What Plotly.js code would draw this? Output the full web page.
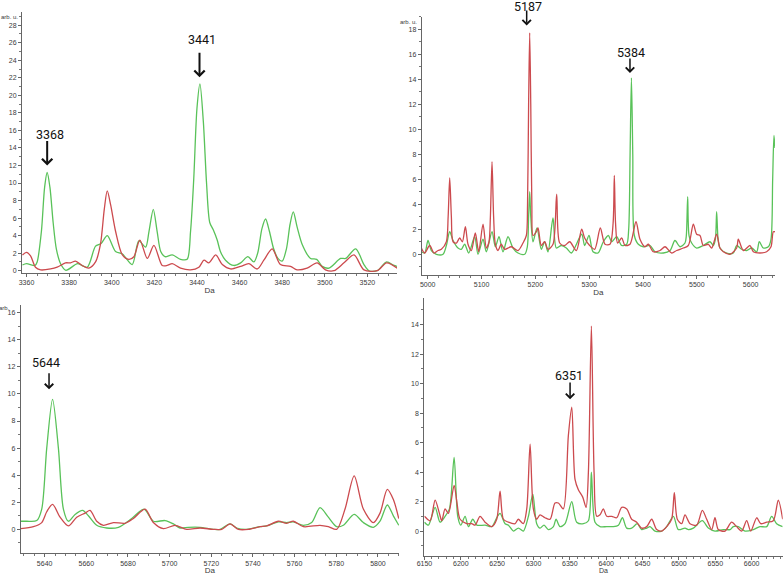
<!DOCTYPE html>
<html>
<head>
<meta charset="utf-8">
<script src="https://cdn.plot.ly/plotly-3.0.1.min.js"></script>
<style>
  html, body { margin: 0; padding: 0; background: #ffffff; }
  #plot { width: 784px; height: 575px; }
</style>
</head>
<body>
<div id="plot"></div>
<script>
// spectra (Da, arb. u.)

// panel 1 : 3360 - 3530 Da
let p1GreenDa = [3358.1, 3360, 3364, 3365, 3367, 3368.5, 3369.7, 3371, 3372.5, 3374, 3376, 3378.5, 3384, 3388.5,
    3392.4, 3395, 3397.9, 3401.8, 3405, 3409.6, 3412.7, 3415.9, 3417.5, 3419.5, 3421.3, 3423, 3425, 3428.4, 3432.3,
    3435.4, 3437, 3438.5, 3440, 3441.4, 3443, 3444.5, 3446, 3447.6, 3449.5, 3451, 3453.4, 3457.3, 3460.5, 3463.9,
    3466.7, 3468.5, 3470.5, 3472.2, 3474, 3476, 3478, 3480, 3482, 3483.7, 3485.2, 3487, 3489.4, 3493.3, 3496.2,
    3498.8, 3502, 3507.4, 3509.8, 3514.5, 3518.4, 3520.7, 3524.6, 3529, 3532.5, 3534];
let p1Green = [0.65, 0.8, 0.6, 1.0, 4.5, 9.5, 11.2, 9.5, 5.5, 2.5, 0.8, 0.05, 0.8, 0.4,
    2.8, 3.1, 4.0, 2.2, 1.9, 0.7, 3.4, 2.7, 4.5, 7.0, 4.5, 2.2, 1.6, 1.8, 1.3,
    1.3, 4.5, 10.5, 18.5, 21.3, 17.0, 10.0, 5.5, 4.7, 3.5, 2.2, 1.2, 0.6, 0.9, 1.6,
    1.0, 2.0, 4.8, 5.9, 4.5, 2.5, 1.4, 1.1, 2.5, 5.3, 6.7, 5.0, 3.0, 1.4, 1.3,
    0.5, 0.3, 1.4, 1.4, 2.5, 0.7, 0.0, 0.0, 1.0, 0.6, 0.5];
let p1RedDa = [3358.1, 3360, 3361.9, 3364.2, 3366.6, 3371.3, 3374.4, 3378.3, 3380.7, 3383, 3386.1, 3389.3, 3392.4,
    3394.7, 3396.5, 3397.9, 3399.5, 3401.8, 3405, 3408, 3410.4, 3413.2, 3416.7, 3419.8, 3423.7, 3426, 3428.4,
    3432.3, 3437, 3440.9, 3443.3, 3445.6, 3448.8, 3451.9, 3455.8, 3460.5, 3464.4, 3468.3, 3471.4, 3475.3, 3479.2,
    3483.9, 3487, 3491.7, 3496.4, 3500.3, 3504.3, 3509, 3513.7, 3518.4, 3524.6, 3529, 3534];
let p1Red = [1.8, 2.1, 1.7, 0.4, 0.1, 0.2, 0.4, 0.9, 0.9, 1.1, 0.6, 0.3, 1.0,
    3.0, 7.0, 9.1, 7.5, 4.5, 1.8, 1.3, 1.6, 3.5, 1.4, 2.9, 0.6, 0.6, 0.8,
    0.3, 0.1, 0.4, 1.2, 0.9, 1.8, 0.7, 0.2, 0.5, 0.8, 0.2, 1.2, 2.5, 0.7,
    0.5, 0.1, 0.3, 0.9, 0.1, 0.0, 0.9, 1.8, 0.1, 0.0, 0.9, 0.3];

// panel 2 : 5000 - 5640 Da
let p2GreenDa = [4988.2, 4994.4, 5000.6, 5006.8, 5016.1, 5028.5, 5034.7, 5040.9, 5047.1, 5056.3, 5062.5, 5068.7,
    5076.2, 5087.3, 5093.5, 5102.8, 5109, 5119.5, 5125.7, 5132.5, 5139.9, 5149.2, 5158.5, 5167.8, 5180.2, 5185.1,
    5187.5, 5189.5, 5191.5, 5195.7, 5203.1, 5211.1, 5217.3, 5223.5, 5232.8, 5239, 5248.3, 5257.6, 5266.9, 5286.1,
    5291.6, 5299.7, 5307.1, 5316.4, 5326.3, 5335.6, 5341.8, 5351.1, 5360.4, 5369.7, 5373.4, 5376, 5378.5, 5381,
    5383.9, 5391.3, 5400.6, 5413, 5422.3, 5437.8, 5450.2, 5459.4, 5468.7, 5478, 5480.5, 5483, 5485.5, 5490.4,
    5499.7, 5512.1, 5524.5, 5530.7, 5534.5, 5536.8, 5539.5, 5543, 5555.4, 5567.8, 5574, 5583.3, 5592.6, 5601.9,
    5611.1, 5616.1, 5623.5, 5632.8, 5637.8, 5640.9, 5643.3, 5645.2];
let p2Green = [0.2, 0.1, 1.1, 0.3, 0.0, 0.0, 0.7, 1.8, 1.1, 0.5, 0.4, 0.8,
    0.1, 1.4, 0.0, 1.2, 0.2, 1.8, 0.6, 1.4, 0.2, 1.4, 0.5, 0.1, 0.0, 0.6,
    3.0, 5.0, 3.0, 1.0, 2.1, 0.4, 1.0, 0.2, 2.9, 0.5, 0.7, 0.5, 0.1, 1.6,
    0.7, 1.5, 0.2, 0.1, 1.0, 1.5, 1.0, 1.4, 0.7, 0.8, 2.0, 8.0, 14.1, 8.0,
    1.5, 0.8, 0.6, 0.7, 0.2, 0.1, 0.3, 1.1, 0.6, 0.9, 1.5, 4.6, 1.5, 0.9,
    0.5, 0.7, 1.0, 0.7, 1.2, 3.4, 1.2, 0.5, 0.1, 0.1, 0.7, 0.4, 0.3, 0.5,
    0.2, 1.0, 0.5, 0.6, 1.2, 6.0, 9.5, 8.5];
let p2RedDa = [4988.2, 4994.4, 5003.7, 5011.8, 5019.2, 5025.4, 5034.7, 5038, 5040.9, 5044, 5047.1, 5053.3, 5059.4,
    5064.4, 5070, 5074.9, 5081.1, 5088.5, 5094.7, 5102.8, 5109, 5113.9, 5116.5, 5119.5, 5122.5, 5125.7, 5130.7,
    5136.8, 5143, 5155.4, 5167.8, 5177.1, 5183.3, 5185.5, 5187.5, 5189.5, 5191.5, 5193.5, 5195.7, 5201.9, 5205,
    5211.1, 5217.3, 5223.5, 5232.8, 5239.6, 5245.2, 5254.5, 5263.8, 5276.2, 5286.1, 5291.6, 5300.9, 5310.2,
    5320.7, 5329.4, 5338.7, 5344.5, 5346.7, 5349, 5352.9, 5360.4, 5366.6, 5375.9, 5387, 5394.4, 5403.7, 5409.9,
    5419.2, 5431.6, 5440.9, 5453.3, 5462.5, 5474.9, 5484.2, 5493.5, 5499.7, 5505.9, 5512.1, 5521.4, 5527.6,
    5536.8, 5543, 5549.2, 5561.6, 5574, 5577.1, 5586.4, 5598.8, 5605, 5617.3, 5629.7, 5637.8, 5642.1, 5645.2];
let p2Red = [0.5, 0.1, 0.7, 0.1, 0.3, 0.4, 1.0, 3.0, 6.1, 3.0, 1.0, 0.9, 1.3,
    1.0, 2.2, 0.8, 0.3, 1.7, 0.2, 2.4, 0.5, 1.0, 3.0, 7.4, 3.0, 0.8, 0.3,
    0.8, 0.4, 0.6, 0.3, 0.9, 1.5, 4.0, 12.0, 17.7, 12.0, 4.0, 1.5, 1.8, 2.1,
    0.7, 1.0, 0.4, 0.8, 4.8, 0.9, 0.7, 1.0, 0.3, 2.0, 1.3, 0.7, 0.4,
    2.1, 0.8, 0.8, 2.5, 6.3, 2.5, 0.9, 1.3, 0.7, 0.8, 2.6, 1.2, 0.6, 0.8,
    0.2, 0.3, 0.6, 0.1, 0.3, 0.5, 0.7, 2.4, 1.6, 1.5, 0.7, 0.8, 0.5,
    1.6, 0.5, 0.2, 0.0, 0.5, 1.2, 0.3, 0.7, 0.2, 0.1, 0.2, 0.6, 1.8, 1.8];

// panel 3 : 5630 - 5810 Da
let p3GreenDa = [5628.5, 5631.4, 5636.2, 5638.6, 5641, 5643.8, 5646.6, 5649, 5651.4, 5654.6, 5658.2, 5661, 5665,
    5669.8, 5675.4, 5681.8, 5687.7, 5692.2, 5697.8, 5701.8, 5705, 5709, 5714.6, 5721, 5724.2, 5729, 5732.2,
    5737, 5743.4, 5746.6, 5752.2, 5756.2, 5759.4, 5764.2, 5768.2, 5772.2, 5776.2, 5780.2, 5783.4, 5788.6, 5793,
    5797.8, 5801, 5804.5, 5807.4, 5810];
let p3Green = [0.6, 0.6, 0.65, 1.5, 6.0, 9.6, 6.0, 1.5, 0.6, 1.1, 1.4, 1.0, 0.3,
    0.1, 0.15, 0.8, 1.5, 0.6, 0.65, 0.4, 0.1, 0.15, 0.15, 0.0, 0.0, 0.4, 0.1,
    0.0, 0.2, 0.25, 0.55, 0.5, 0.55, 0.3, 0.5, 1.6, 0.9, 0.2, 0.3, 1.1, 0.5,
    0.15, 0.6, 1.8, 1.0, 0.3];
let p3RedDa = [5628.5, 5634.6, 5638.6, 5641, 5643.8, 5647.4, 5651.4, 5655.4, 5659.4, 5661.8, 5665, 5668.2, 5673,
    5678.6, 5682.6, 5688.2, 5692.2, 5697, 5702.6, 5708.2, 5714.6, 5721, 5725, 5729, 5733, 5737.8, 5743.4,
    5746.6, 5752.2, 5756.2, 5759.4, 5764.2, 5772.2, 5776.2, 5780.2, 5784.2, 5788.6, 5793, 5797.8, 5801, 5804.5,
    5807.4, 5810];
let p3Red = [0.05, 0.2, 0.5, 1.3, 1.85, 0.9, 0.25, 0.9, 1.2, 1.4, 0.6, 0.3, 0.5,
    0.45, 0.8, 1.5, 0.5, 0.05, 0.3, 0.0, 0.1, 0.0, 0.0, 0.4, 0.0, 0.0, 0.2,
    0.25, 0.6, 0.45, 0.6, 0.2, 0.3, 0.2, 0.0, 1.5, 3.95, 1.5, 0.5, 1.2, 2.95,
    2.2, 0.8];

// panel 4 : 6150 - 6640 Da
let p4GreenDa = [6150, 6155.5, 6164.7, 6171.5, 6178.4, 6184.4, 6190.8, 6195.8, 6200, 6205.9, 6210.5, 6216.5, 6222,
    6233.4, 6242.6, 6249.4, 6254, 6260.9, 6265.5, 6272.4, 6279.2, 6286, 6293, 6299, 6304.4, 6309, 6314.5,
    6320.5, 6327.4, 6331, 6336.5, 6343.4, 6352.6, 6359.4, 6368.6, 6375.5, 6379.6, 6384.6, 6391.5, 6400.7,
    6409.9, 6416.8, 6422.3, 6428.2, 6435, 6442.8, 6448.8, 6455.7, 6460.3, 6467.1, 6476.3, 6483.2, 6492.4,
    6499.2, 6508.4, 6513, 6519.8, 6532.2, 6540.4, 6549.6, 6561, 6570.3, 6574.8, 6581.7, 6590.9, 6602.3,
    6611.5, 6620.7, 6627.6, 6634.4, 6642.7];
let p4Green = [0.6, 0.4, 1.6, 0.6, 1.0, 1.5, 5.0, 1.0, 0.4, 1.0, 0.3, 0.8, 0.4,
    0.4, 0.3, 0.9, 1.2, 0.5, 0.4, 0.0, 0.2, 0.0, 1.0, 2.5, 0.5, 0.2, 0.4,
    0.1, 0.3, 0.8, 0.3, 0.5, 2.0, 0.6, 0.5, 0.7, 4.0, 0.6, 0.3, 0.3,
    0.3, 0.4, 0.9, 0.2, 0.2, 0.5, 0.1, 0.2, 0.3, 0.0, 0.0, 0.3, 1.0,
    0.1, 0.2, 0.1, 0.2, 0.7, 0.2, 0.0, 0.1, 0.1, 0.3, 0.3, 0.0, 0.1,
    0.3, 0.3, 1.0, 0.5, 0.3];
let p4RedDa = [6150, 6157.8, 6164.7, 6170.6, 6173.8, 6178.4, 6183, 6190.8, 6194.5, 6199, 6208, 6215, 6219.7,
    6226.5, 6233.4, 6242.6, 6249.4, 6254, 6258.6, 6265.5, 6274.7, 6279, 6286, 6290.7, 6295.3, 6299.8, 6304.4,
    6309, 6315.9, 6322.8, 6329.6, 6334.2, 6341, 6348, 6352.6, 6357.1, 6361.7, 6367.7, 6372.3, 6375.5, 6379.6,
    6383.3, 6387, 6391.5, 6396.1, 6400.7, 6407.6, 6414.4, 6421.3, 6428.2, 6435, 6441.9, 6448.8, 6455.7,
    6462.6, 6469.4, 6476.3, 6483.2, 6490, 6493.7, 6497.8, 6503.8, 6508.4, 6515.3, 6524.4, 6532.2, 6538.2,
    6545.1, 6549.6, 6554.2, 6563.4, 6572.5, 6579.4, 6586.3, 6593.2, 6598.8, 6607, 6612.5, 6620.7, 6629.8,
    6636.7, 6642.7];
let p4Red = [1.0, 0.7, 2.1, 1.2, 0.7, 1.5, 1.2, 3.1, 2.0, 0.8, 0.5, 0.5, 0.4,
    1.0, 0.6, 0.3, 0.8, 2.7, 0.8, 0.6, 0.5, 0.8, 0.5, 1.5, 5.9, 1.5, 0.8,
    1.1, 0.9, 0.8, 1.9, 1.9, 1.5, 6.5, 8.4, 3.5, 2.8, 2.3, 1.6, 4.0, 13.9,
    4.0, 1.0, 1.1, 1.5, 1.0, 1.0, 0.9, 1.6, 1.5, 0.8, 0.6, 0.2, 0.3,
    0.8, 0.1, 0.0, 0.3, 0.8, 2.6, 0.8, 0.5, 1.1, 0.5, 0.4, 1.4, 0.8,
    0.1, 0.9, 0.1, 0.0, 0.6, 0.3, 0.0, 0.7, 0.0, 0.9, 0.5, 0.6, 0.7,
    2.1, 0.8];

// marked peaks: label, position of the arrow (Da) and height of the arrow tip
let peakLabels = ["3368", "3441", "5187", "5384", "5644", "6351"];
let peakDa = [3369.7, 3441.2, 5183.9, 5375.8, 5642.1, 6350.3];
let peakTip = [12.0, 22.05, 18.3, 14.5, 10.34, 8.94];
let peakPanel = [1, 1, 2, 2, 3, 4];

// arrow length and label offset (pixels) for each marked peak
let arrowLen = [26, 26, 16.5, 16, 17.6, 18.3];
let labelShiftX = [2.6, 2, 1.5, 0.8, -3, -1.3];
let labelShiftY = [31.4, 37.9, 19.3, 20.7, 26.5, 23.8];

let greenColor = "#59c259";
let redColor = "#cc4a4e";

// build the traces, green under red in every panel
let greenDa = [p1GreenDa, p2GreenDa, p3GreenDa, p4GreenDa];
let greenVals = [p1Green, p2Green, p3Green, p4Green];
let redDa = [p1RedDa, p2RedDa, p3RedDa, p4RedDa];
let redVals = [p1Red, p2Red, p3Red, p4Red];

let data = [];
for (var i = 0; i < 4; i++) {
    let suffix = i === 0 ? "" : String(i + 1);
    data.push({
        x: greenDa[i], y: greenVals[i], type: "scatter", mode: "lines",
        line: { color: greenColor, width: 1.3, shape: "spline", smoothing: 0.8 },
        xaxis: "x" + suffix, yaxis: "y" + suffix, hoverinfo: "skip"
    });
    data.push({
        x: redDa[i], y: redVals[i], type: "scatter", mode: "lines",
        line: { color: redColor, width: 1.3, shape: "spline", smoothing: 0.8 },
        xaxis: "x" + suffix, yaxis: "y" + suffix, hoverinfo: "skip"
    });
}

// common axis look
let tickFont = { family: "Liberation Sans, Arial, sans-serif", size: 7, color: "#3a3a3a" };
let daFont = { family: "Liberation Sans, Arial, sans-serif", size: 8, color: "#3a3a3a" };
function xAxis(range, dtick, minorDtick, domain, anchor, withTitle) {
    let ax = {
        domain: domain, range: range, anchor: anchor,
        tickmode: "linear", dtick: dtick, tick0: 0,
        ticks: "outside", ticklen: 3, tickcolor: "#666", tickwidth: 1,
        minor: { dtick: minorDtick, ticks: "outside", ticklen: 2, tickcolor: "#777" },
        showline: true, linecolor: "#666", linewidth: 1,
        showgrid: false, zeroline: false, tickfont: tickFont
    };
    if (withTitle) {
        ax.title = { text: "Da", font: daFont, standoff: 1 };
    }
    return ax;
}
function yAxis(range, domain, anchor) {
    return {
        domain: domain, range: range, anchor: anchor,
        tickmode: "linear", dtick: 2, tick0: 0,
        ticks: "outside", ticklen: 3, tickcolor: "#666", tickwidth: 1,
        minor: { dtick: 1, ticks: "outside", ticklen: 2, tickcolor: "#777" },
        showline: true, linecolor: "#666", linewidth: 1,
        showgrid: false, zeroline: false, tickfont: tickFont
    };
}

// annotations: arrows and peak labels
let annotations = [];
for (var k = 0; k < peakLabels.length; k++) {
    let suffix = peakPanel[k] === 1 ? "" : String(peakPanel[k]);
    let big = peakPanel[k] === 1;
    annotations.push({
        x: peakDa[k], y: peakTip[k], xref: "x" + suffix, yref: "y" + suffix,
        text: "", showarrow: true, ax: 0, ay: -arrowLen[k],
        arrowhead: 4, arrowsize: big ? 1.0 : 1.1, arrowwidth: big ? 2 : 1.5, arrowcolor: "#111"
    });
    annotations.push({
        x: peakDa[k], y: peakTip[k], xref: "x" + suffix, yref: "y" + suffix,
        text: peakLabels[k], showarrow: false, yanchor: "middle", xanchor: "center",
        xshift: labelShiftX[k], yshift: labelShiftY[k],
        font: { family: "Roboto, sans-serif", size: 12.5, color: "#111" }
    });
}

// "Da" under the bottom-right panel, kept just inside the bottom edge
annotations.push({ xref: "x4 domain", yref: "y4 domain", x: 0.5, y: 0, text: "Da", showarrow: false,
    xanchor: "center", yanchor: "bottom", yshift: -19.6, borderpad: 0,
    font: { family: "Liberation Sans, Arial, sans-serif", size: 7, color: "#3a3a3a" } });

// "arb. u." unit labels on the y axes
let unitFont = { family: "Liberation Sans, Arial, sans-serif", size: 6, color: "#3a3a3a" };
annotations.push({ xref: "x domain", yref: "y domain", x: 0, y: 1, text: "arb. u.", showarrow: false,
    xanchor: "right", yanchor: "middle", xshift: -2, yshift: -5, font: unitFont });
annotations.push({ xref: "x2 domain", yref: "y2 domain", x: 0, y: 1, text: "arb. u.", showarrow: false,
    xanchor: "right", yanchor: "middle", xshift: -3, yshift: -5, font: unitFont });
annotations.push({ xref: "x3 domain", yref: "y3 domain", x: 0, y: 1, text: "arb.", showarrow: false,
    xanchor: "right", yanchor: "middle", xshift: -9, yshift: -3, font: unitFont });

let xaxis4 = xAxis([6149.8, 6642.7], 50, 10, [0.5412, 0.9983], "y4", false);
xaxis4.ticklabelstandoff = -2;

let layout = {
    width: 784, height: 575,
    margin: { l: 0, r: 0, t: 0, b: 0, pad: 0 },
    paper_bgcolor: "#ffffff", plot_bgcolor: "#ffffff",
    showlegend: false,
    xaxis: xAxis([3357.9, 3533.9], 20, 5, [0.0281, 0.5064], "y", true),
    yaxis: yAxis([-0.26, 29.5], [0.5252, 0.9791], "x"),
    xaxis2: xAxis([4988.9, 5645.2], 100, 20, [0.5379, 0.9885], "y2", true),
    yaxis2: yAxis([-1.66, 19.0], [0.5217, 0.9710], "x2"),
    xaxis3: xAxis([5628.5, 5810.1], 20, 5, [0.0264, 0.5089], "y3", true),
    yaxis3: yAxis([-1.77, 16.57], [0.0377, 0.4696], "x3"),
    xaxis4: xaxis4,
    yaxis4: yAxis([-1.67, 15.8], [0.0336, 0.4817], "x4"),
    annotations: annotations
};

Plotly.newPlot("plot", data, layout, { staticPlot: true });
</script>
</body>
</html>
